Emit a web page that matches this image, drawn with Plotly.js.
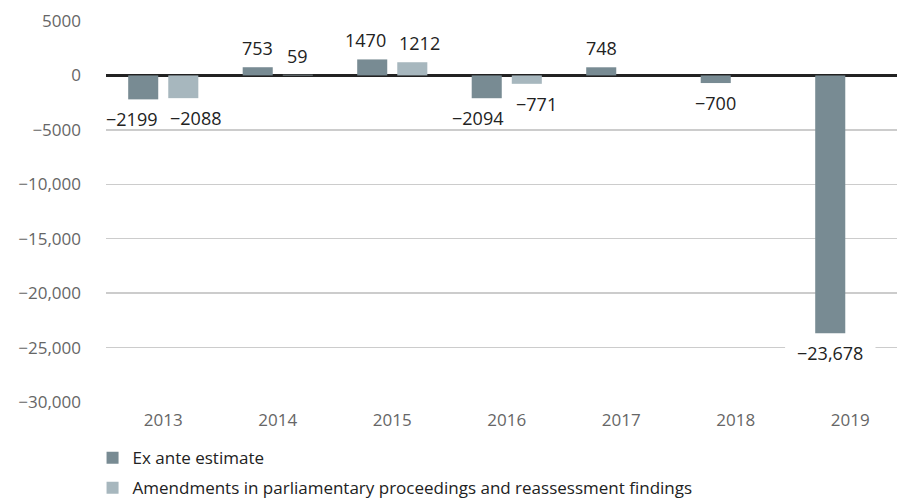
<!DOCTYPE html>
<html>
<head>
<meta charset="utf-8">
<script src="https://cdn.plot.ly/plotly-3.0.1.min.js"></script>
<style>html,body{margin:0;padding:0;background:#fff;}#chart{width:897px;height:502px;}</style>
</head>
<body>
<div id="chart"></div>
<script>
var years = ['2013', '2014', '2015', '2016', '2017', '2018', '2019'];
var exAnte = [-2199, 753, 1470, -2094, 748, -700, -23678];
var amendments = [-2088, 59, 1212, -771, null, null, null];
var seriesNames = ['Ex ante estimate', 'Amendments in parliamentary proceedings and reassessment findings'];
var yTickVals = [5000, 0, -5000, -10000, -15000, -20000, -25000, -30000];
var yTickText = ['5000', '0', '\u22125000', '\u221210,000', '\u221215,000', '\u221220,000', '\u221225,000', '\u221230,000'];

var darkColor = '#788b93';
var lightColor = '#a7b7be';
var FONT = '"Open Sans", "Noto Sans", sans-serif';

function fmt(v) {
  var a = Math.abs(v);
  var s = a >= 10000 ? a.toLocaleString('en-US') : String(a);
  return (v < 0 ? '\u2212' : '') + s;
}

var canvas = document.createElement('canvas');
var ctx = canvas.getContext('2d');
ctx.font = '18px "Open Sans"';
function textW(t) { return ctx.measureText(t).width; }

var traces = [
  {type: 'bar', name: seriesNames[0], x: years, y: exAnte, marker: {color: darkColor}, legendgroup: 'a', hoverinfo: 'x+y'},
  {type: 'bar', name: seriesNames[1], x: years, y: amendments, marker: {color: lightColor}, legendgroup: 'b', hoverinfo: 'x+y'}
];

var barOffset = 20; // half of the bar pitch within a group (px)
var annotations = [];
var shapes = [];
years.forEach(function (yr, i) {
  var vals = [exAnte[i], amendments[i]];
  var labels = vals.map(function (v) { return v == null ? null : fmt(v); });
  var shifts = [-barOffset, barOffset];
  if (labels[0] && labels[1]) {
    var need = (textW(labels[0]) + textW(labels[1])) / 2 + 13;
    var have = 2 * barOffset;
    if (need > have) {
      var d = (need - have) / 2;
      shifts = [-barOffset - d, barOffset + d];
    }
  }
  vals.forEach(function (v, k) {
    if (v == null) return;
    var pos = v >= 0;
    var w = textW(labels[k]);
    // white knock-out behind the glyphs so gridlines are interrupted
    shapes.push({
      type: 'rect', layer: 'above', xref: 'x', yref: 'y',
      xsizemode: 'pixel', ysizemode: 'pixel', xanchor: i, yanchor: v,
      x0: shifts[k] - w / 2 - 12, x1: shifts[k] + w / 2 + 12,
      y0: pos ? 12 : -12, y1: pos ? 26 : -26,
      fillcolor: '#ffffff', line: {width: 0}
    });
    annotations.push({
      x: i, y: v, xref: 'x', yref: 'y',
      text: labels[k], showarrow: false,
      xshift: shifts[k],
      yanchor: pos ? 'bottom' : 'top',
      yshift: pos ? 6 : -7,
      borderpad: 0,
      font: {family: FONT, size: 18, color: '#222222'}
    });
  });
});

var layout = {
  width: 897, height: 502,
  margin: {l: 106, r: 0, t: 21, b: 100, autoexpand: false},
  paper_bgcolor: '#ffffff', plot_bgcolor: '#ffffff',
  font: {family: FONT, color: '#666666', size: 17},
  barmode: 'group', bargap: 0.3, bargroupgap: 0.25,
  showlegend: true,
  legend: {
    orientation: 'v', x: -0.017, xanchor: 'left', y: -0.1, yanchor: 'top',
    traceorder: 'grouped', tracegroupgap: 5,
    font: {family: FONT, size: 17, color: '#222222'},
    bgcolor: 'rgba(0,0,0,0)'
  },
  xaxis: {
    type: 'category', range: [-0.5, 6.408],
    showgrid: false, zeroline: false, showline: false,
    ticks: '', ticklabelstandoff: 6,
    tickfont: {family: FONT, size: 17, color: '#666666'}
  },
  yaxis: {
    range: [-30000, 5000],
    tickvals: yTickVals, ticktext: yTickText,
    showgrid: true, gridcolor: '#cccccc', gridwidth: 1.5,
    zeroline: true, zerolinecolor: '#222222', zerolinewidth: 3,
    showline: false, ticks: '', ticklabelstandoff: 24,
    layer: 'above traces',
    tickfont: {family: FONT, size: 17, color: '#666666'}
  },
  shapes: shapes,
  annotations: annotations
};

Plotly.newPlot('chart', traces, layout, {displayModeBar: false, staticPlot: true});
</script>
</body>
</html>
